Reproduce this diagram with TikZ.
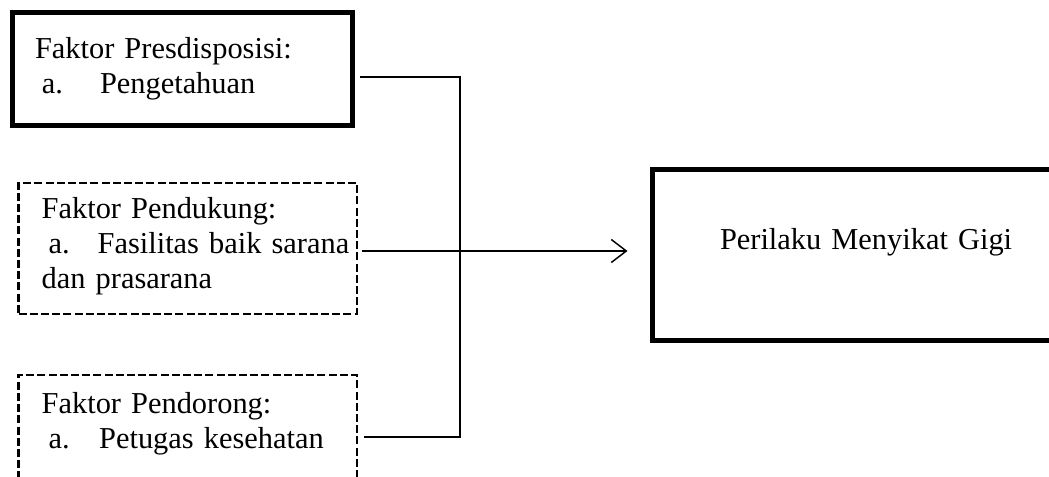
\documentclass[tikz,border=0pt]{standalone}
\usepackage{fontspec}
\setmainfont{Liberation Serif}
\usetikzlibrary{arrows.meta}
\newlength{\pxu}
\setlength{\pxu}{0.75pt}
\newcommand{\itema}[2][57.5]{\mbox{\makebox[#1\pxu][l]{\hspace*{7\pxu}a.}#2}}
\tikzstyle{kotak}=[rectangle, draw, anchor=north west, outer sep=0pt, inner ysep=0pt, inner xsep=23.2\pxu, align=left, text width=292\pxu, font=\fontsize{22.8pt}{26.25pt}\selectfont]
\tikzstyle{tebal}=[kotak, line width=3.6pt]
\tikzstyle{putus}=[kotak, line width=2.1pt, dash pattern=on 6pt off 2.4pt]
\tikzstyle{garis}=[line width=1.1pt]

\begin{document}
\begin{tikzpicture}[x=0.75pt, y=-0.75pt]
                \clip (0,0) rectangle (1049,477);
                \node[tebal, inner xsep=22.5\pxu, text width=295\pxu, text height=46.5\pxu, text depth=66.5\pxu] (pre) at (12.5, 12.5) {Faktor Presdisposisi:\\ \itema[65]{Pengetahuan}};
                \node[putus, text height=35.5\pxu, text depth=95.5\pxu] (duk) at (18.5, 183) {Faktor Pendukung:\\ \itema[56]{Fasilitas baik sarana}\\ dan prasarana};
                \node[putus, text height=38.3\pxu, text depth=107\pxu] (dor) at (18.5, 375) {Faktor Pendorong:\\ \itema{Petugas kesehatan}};
                \node[tebal, inner xsep=67.5\pxu, text width=320\pxu, text height=80.5\pxu, text depth=90.5\pxu] (per) at (652.5, 169.5) {Perilaku Menyikat Gigi};
                \coordinate (jtop) at (460, 77);
                \coordinate (jmid) at (460, 251);
                \coordinate (jbot) at (460, 437);
                \draw[garis] ([xshift=7.5\pxu]pre.east |- jtop) -- (jtop) -- (jbot) -- ([xshift=7.5\pxu]dor.east |- jbot);
                \draw[garis] ([xshift=5\pxu]duk.east |- jmid) -- (jmid);
                \draw[garis, -{Straight Barb[length=11.25pt, width=17.25pt]}] (jmid) -- ([xshift=-25\pxu]per.west |- jmid);
            \end{tikzpicture}
\end{document}
